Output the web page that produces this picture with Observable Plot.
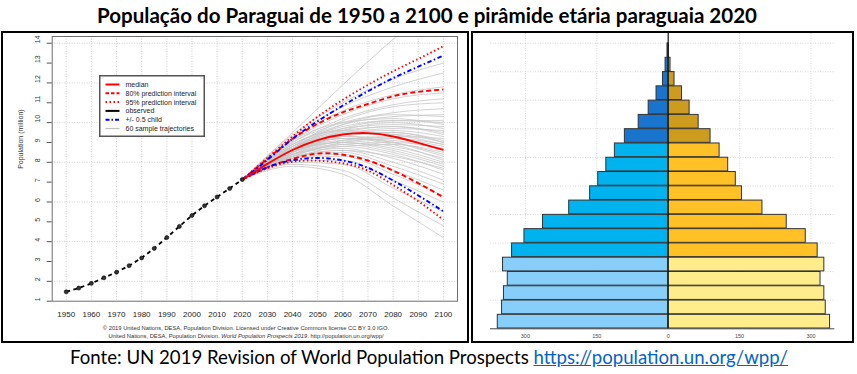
<!DOCTYPE html>
<html>
<head>
<meta charset="utf-8">
<script src="https://cdn.jsdelivr.net/npm/d3@7"></script>
<script src="https://cdn.jsdelivr.net/npm/@observablehq/plot@0.6"></script>
<style>
  body { margin: 0; width: 857px; height: 374px; position: relative; background: #fff; overflow: hidden; font-family: "Liberation Sans", Arial, sans-serif; }
  .panel { position: absolute; border: 2px solid #000; background: #fff; }
  #title { position: absolute; left: 97px; top: 3px; font-family: Lato, "Open Sans", sans-serif; font-weight: bold; font-size: 19px; white-space: nowrap; color: #000; line-height: 24px; }
  #caption { position: absolute; left: 70px; top: 345px; font-family: Lato, "Open Sans", sans-serif; font-size: 19px; white-space: nowrap; color: #000; line-height: 24px; }
  #caption a { color: #0563C1; text-decoration: underline; }
  .copy { position: absolute; left: 23px; width: 440px; text-align: center; font-size: 5.8px; line-height: 8px; color: #333; white-space: nowrap; font-family: "Liberation Sans", Arial, sans-serif; }
</style>
</head>
<body>
<div id="title">População do Paraguai de 1950 a 2100 e pirâmide etária paraguaia 2020</div>
<div id="leftPanel" class="panel" style="left:1px; top:31px; width:464px; height:308px;"></div>
<div id="rightPanel" class="panel" style="left:471px; top:31px; width:379px; height:308px;"></div>
<div id="caption">Fonte: UN 2019 Revision of World Population Prospects <a href="https://population.un.org/wpp/">https://population.un.org/wpp/</a></div>
<script>
// ---------------- DATA: population (millions) ----------------
const obsYears = [1950, 1955, 1960, 1965, 1970, 1975, 1980, 1985, 1990, 1995, 2000, 2005, 2010, 2015, 2020];
const obsValues = [1.47, 1.66, 1.90, 2.18, 2.46, 2.79, 3.18, 3.66, 4.21, 4.77, 5.32, 5.81, 6.25, 6.68, 7.13];

const projYears = [2020, 2030, 2040, 2050, 2060, 2070, 2080, 2090, 2100];
const median      = [7.13, 7.92, 8.62, 9.12, 9.40, 9.47, 9.30, 8.98, 8.63];
const pi80Upper   = [7.13, 8.17, 9.18, 9.94, 10.52, 10.94, 11.33, 11.55, 11.67];
const pi80Lower   = [7.13, 7.75, 8.17, 8.44, 8.38, 8.09, 7.58, 6.95, 6.24];
const pi95Upper   = [7.13, 8.22, 9.30, 10.30, 11.15, 11.90, 12.59, 13.21, 13.85];
const pi95Lower   = [7.13, 7.70, 8.03, 8.08, 7.95, 7.58, 6.86, 6.04, 5.10];
const childUpper  = [7.13, 8.12, 9.18, 10.07, 10.86, 11.58, 12.24, 12.82, 13.38];
const childLower  = [7.13, 7.75, 8.10, 8.22, 8.09, 7.72, 7.08, 6.33, 5.53];

// sample trajectories at 2020, 2040, 2060, 2080, 2100
const trajYears = [2020, 2040, 2060, 2080, 2100];
const trajectories = [
  [7.13, 9.5, 11.9, 14.2, 16.2],
  [7.13, 9.4, 11.0, 12.2, 13.0],
  [7.13, 9.3, 10.8, 11.8, 12.5],
  [7.13, 9.2, 10.6, 11.4, 11.8],
  [7.13, 9.1, 10.4, 11.2, 11.5],
  [7.13, 9.0, 10.2, 10.9, 11.2],
  [7.13, 8.8, 10.1, 10.8, 11.0],
  [7.13, 9.0, 10.0, 10.5, 10.7],
  [7.13, 8.9, 9.9, 10.3, 10.4],
  [7.13, 8.7, 9.9, 10.4, 10.3],
  [7.13, 8.9, 9.8, 10.1, 10.0],
  [7.13, 8.8, 9.7, 9.9, 9.8],
  [7.13, 8.5, 9.4, 9.7, 9.6],
  [7.13, 8.8, 9.6, 9.8, 9.5],
  [7.13, 8.7, 9.5, 9.6, 9.3],
  [7.13, 8.7, 9.4, 9.5, 9.1],
  [7.13, 8.9, 9.6, 9.4, 8.9],
  [7.13, 8.6, 9.4, 9.4, 9.0],
  [7.13, 8.6, 9.3, 9.2, 8.8],
  [7.13, 8.3, 8.9, 9.0, 8.7],
  [7.13, 8.6, 9.2, 9.1, 8.6],
  [7.13, 8.5, 9.2, 9.0, 8.4],
  [7.13, 8.5, 9.1, 8.8, 8.2],
  [7.13, 8.5, 9.0, 8.7, 8.0],
  [7.13, 8.6, 9.0, 8.6, 7.9],
  [7.13, 8.4, 8.9, 8.5, 7.8],
  [7.13, 8.4, 8.8, 8.4, 7.6],
  [7.13, 8.4, 8.7, 8.2, 7.4],
  [7.13, 8.3, 8.6, 8.0, 7.1],
  [7.13, 8.3, 8.5, 7.8, 6.9],
  [7.13, 8.2, 8.4, 7.6, 6.6],
  [7.13, 8.2, 8.3, 7.4, 6.3],
  [7.13, 8.1, 8.1, 7.1, 6.0],
  [7.13, 8.0, 7.9, 6.7, 5.5],
  [7.13, 7.9, 7.6, 6.2, 4.8],
  [7.13, 7.8, 7.4, 5.8, 4.2],
  [7.13, 9.1, 10.0, 10.2, 9.9],
  [7.13, 8.8, 9.3, 9.0, 8.3],
  [7.13, 8.2, 8.8, 8.9, 8.5],
  [7.13, 8.4, 9.1, 9.3, 9.2],
  [7.13, 8.7, 9.7, 10.1, 10.1],
  [7.13, 8.5, 9.6, 10.0, 9.7],
  [7.13, 8.6, 9.5, 9.8, 9.4],
  [7.13, 8.4, 9.3, 9.5, 9.0],
  [7.13, 8.3, 9.0, 9.2, 8.9],
  [7.13, 8.7, 9.2, 8.9, 8.1],
  [7.13, 8.2, 8.6, 8.3, 7.7]
];

const decadeTicks = [1950, 1960, 1970, 1980, 1990, 2000, 2010, 2020, 2030, 2040, 2050, 2060, 2070, 2080, 2090, 2100];
const yTicks = [1, 2, 3, 4, 5, 6, 7, 8, 9, 10, 11, 12, 13, 14];
const yGrid = [2, 4, 6, 8, 10, 12, 14];

const legendLabels = ["median", "80% prediction interval", "95% prediction interval", "observed", "+/- 0.5 child", "60 sample trajectories"];

// ---------------- DATA: pyramid 2020 (thousands) ----------------
const ageGroups = ["0-4","5-9","10-14","15-19","20-24","25-29","30-34","35-39","40-44","45-49","50-54","55-59","60-64","65-69","70-74","75-79","80-84","85-89","90-94","95+"];
const male   = [358, 349, 345, 337, 347, 328, 302, 263, 208, 164, 147, 130, 112, 91, 62, 41, 24.5, 11, 5.5, 1.5];
const female = [340, 331, 328, 320, 328, 314, 289, 249, 198, 155, 142, 126, 108, 89, 64, 45, 29, 13.3, 4.9, 1.2];
const pyramidTicks = [-300, -150, 0, 150, 300];

// ---------------- build tables ----------------
const obs = obsYears.map((year, i) => ({year, value: obsValues[i]}));
function series(values) { return projYears.map((year, i) => ({year, value: values[i]})); }
const traj = trajectories.flatMap((arr, id) => trajYears.map((year, i) => ({id, year, value: arr[i]})));

const font = "Liberation Sans, Arial, sans-serif";
const DASH = "5,3", DOT = "1.5,2.5", DOTDASH = "4.5,2.5,1.5,2.5";

function projLine(values, stroke, dash) {
  return Plot.line(series(values), {x: "year", y: "value", stroke, strokeWidth: 1.9, strokeDasharray: dash, strokeLinecap: "butt", strokeLinejoin: "round", curve: "natural"});
}

// ---------------- LEFT CHART ----------------
const leftChart = Plot.plot({
  width: 464, height: 308,
  marginLeft: 48.7, marginRight: 10, marginTop: 3, marginBottom: 40.3,
  x: {domain: [1944.43, 2105.6], axis: null},
  y: {domain: [1, 14.34], axis: null},
  style: {fontFamily: font, fontSize: "8px", color: "#222", background: "white", overflow: "visible"},
  marks: [
    Plot.ruleX(decadeTicks, {stroke: "#c4c4c4", strokeWidth: 0.8, strokeDasharray: "1,1.5"}),
    Plot.ruleY(yGrid, {stroke: "#c4c4c4", strokeWidth: 0.8, strokeDasharray: "1,1.5"}),
    Plot.line(traj, {x: "year", y: "value", z: "id", stroke: "#c6c6c6", strokeWidth: 0.8, curve: "monotone-x", clip: true}),
    projLine(pi80Lower, "#ff0000", DASH),
    projLine(pi80Upper, "#ff0000", DASH),
    projLine(pi95Lower, "#ff0000", DOT),
    projLine(pi95Upper, "#ff0000", DOT),
    projLine(childLower, "#0000ff", DOTDASH),
    projLine(childUpper, "#0000ff", DOTDASH),
    projLine(median, "#ff0000", null),
    Plot.line(obs, {x: "year", y: "value", stroke: "#000", strokeWidth: 1.8, strokeDasharray: "4,3.5", strokeLinecap: "butt"}),
    Plot.dot(obs, {x: "year", y: "value", r: 2, fill: "#333", stroke: "#000", strokeWidth: 0.6}),
    Plot.frame({stroke: "#6e6e6e", strokeWidth: 1}),
    Plot.axisX(decadeTicks, {tickSize: 0, tickPadding: 10, fontSize: 8, tickFormat: d => String(d), label: null, fill: "#222"}),
    Plot.axisY(yTicks, {tickSize: 5, tickFormat: () => "", label: null, stroke: "#555"}),
    Plot.text(yTicks, {y: d => d, text: d => String(d), frameAnchor: "left", dx: -14, rotate: -90, fontSize: 7, fill: "#333"}),
    Plot.text(["Population (million)"], {text: d => d, frameAnchor: "left", dx: -31, rotate: -90, fontSize: 7, fill: "#333"})
  ]
});
const leftPanel = document.getElementById("leftPanel");
leftPanel.appendChild(leftChart);

// legend (SVG overlay)
const legendStyles = [
  {stroke: "#ff0000", w: 2, dash: null},
  {stroke: "#ff0000", w: 2, dash: "3.5,2"},
  {stroke: "#ff0000", w: 2, dash: "1.5,2.5"},
  {stroke: "#000000", w: 2, dash: null},
  {stroke: "#0000ff", w: 2, dash: "4,2,1.5,2"},
  {stroke: "#c0c0c0", w: 1.2, dash: null}
];
const lg = d3.create("svg").attr("width", 106).attr("height", 62)
  .style("position", "absolute").style("left", "96px").style("top", "42px");
lg.append("rect").attr("x", 0.75).attr("y", 0.75).attr("width", 104.5).attr("height", 60.5)
  .attr("fill", "#fff").attr("stroke", "#555").attr("stroke-width", 1.5);
legendLabels.forEach((label, i) => {
  const cy = 9.5 + i * 8.8;
  lg.append("line").attr("x1", 6.5).attr("x2", 20.5).attr("y1", cy).attr("y2", cy)
    .attr("stroke", legendStyles[i].stroke).attr("stroke-width", legendStyles[i].w)
    .attr("stroke-dasharray", legendStyles[i].dash);
  lg.append("text").attr("x", 26.5).attr("y", cy).attr("dy", "0.35em")
    .attr("font-family", font).attr("font-size", 7).attr("fill", "#222").text(label);
});
leftPanel.appendChild(lg.node());

// copyright lines
const c1 = document.createElement("div");
c1.className = "copy"; c1.style.top = "291px";
c1.textContent = "© 2019 United Nations, DESA, Population Division. Licensed under Creative Commons license CC BY 3.0 IGO.";
const c2 = document.createElement("div");
c2.className = "copy"; c2.style.top = "299px";
c2.innerHTML = "United Nations, DESA, Population Division. <i>World Population Prospects 2019</i>. http://population.un.org/wpp/";
leftPanel.appendChild(c1); leftPanel.appendChild(c2);

// ---------------- RIGHT CHART (pyramid) ----------------
const rows = ageGroups.map((age, i) => ({age, i, male: male[i], female: female[i]}));
const maleColor = d => d.i < 5 ? "#87CEFA" : d.i < 13 ? "#00B2EE" : "#1874CD";
const femaleColor = d => d.i < 5 ? "#FFEC8B" : d.i < 13 ? "#FFC125" : "#CD9B1D";
const rowGrid = [2, 4, 6, 8, 10, 12, 14, 16, 18, 20];

const rightChart = Plot.plot({
  width: 379, height: 308,
  marginLeft: 17, marginRight: 17.7, marginTop: 0, marginBottom: 12.7,
  x: {domain: [-373.3, 350], axis: null},
  y: {domain: [0, 20.68], axis: null},
  style: {fontFamily: font, fontSize: "5.5px", color: "#333", background: "white"},
  marks: [
    Plot.ruleX([-300, -150, 150, 300], {stroke: "#cfcfcf", strokeWidth: 0.8, strokeDasharray: "1,1.5"}),
    Plot.ruleY(rowGrid, {stroke: "#cfcfcf", strokeWidth: 0.8, strokeDasharray: "1,1.5"}),
    Plot.rectX(rows, {x1: 0, x2: d => -d.male, y1: d => d.i, y2: d => d.i + 1, fill: maleColor, stroke: "#333", strokeWidth: 1, insetTop: 0.3, insetBottom: 0.3}),
    Plot.rectX(rows, {x1: 0, x2: d => d.female, y1: d => d.i, y2: d => d.i + 1, fill: femaleColor, stroke: "#333", strokeWidth: 1, insetTop: 0.3, insetBottom: 0.3}),
    Plot.ruleX([0], {stroke: "#111", strokeWidth: 1.2}),
    Plot.ruleY([0], {stroke: "#444", strokeWidth: 1}),
    Plot.axisX(pyramidTicks, {tickSize: 0, tickPadding: 5, fontSize: 5.5, tickFormat: d => String(Math.abs(d)), label: null, fill: "#444"})
  ]
});
document.getElementById("rightPanel").appendChild(rightChart);

// ---------------- fit title & caption widths ----------------
function fitWidth(el, target) {
  const w = el.getBoundingClientRect().width;
  const fs = parseFloat(getComputedStyle(el).fontSize);
  el.style.fontSize = (fs * target / w).toFixed(2) + "px";
}
fitWidth(document.getElementById("title"), 660);
fitWidth(document.getElementById("caption"), 718);
</script>
</body>
</html>
